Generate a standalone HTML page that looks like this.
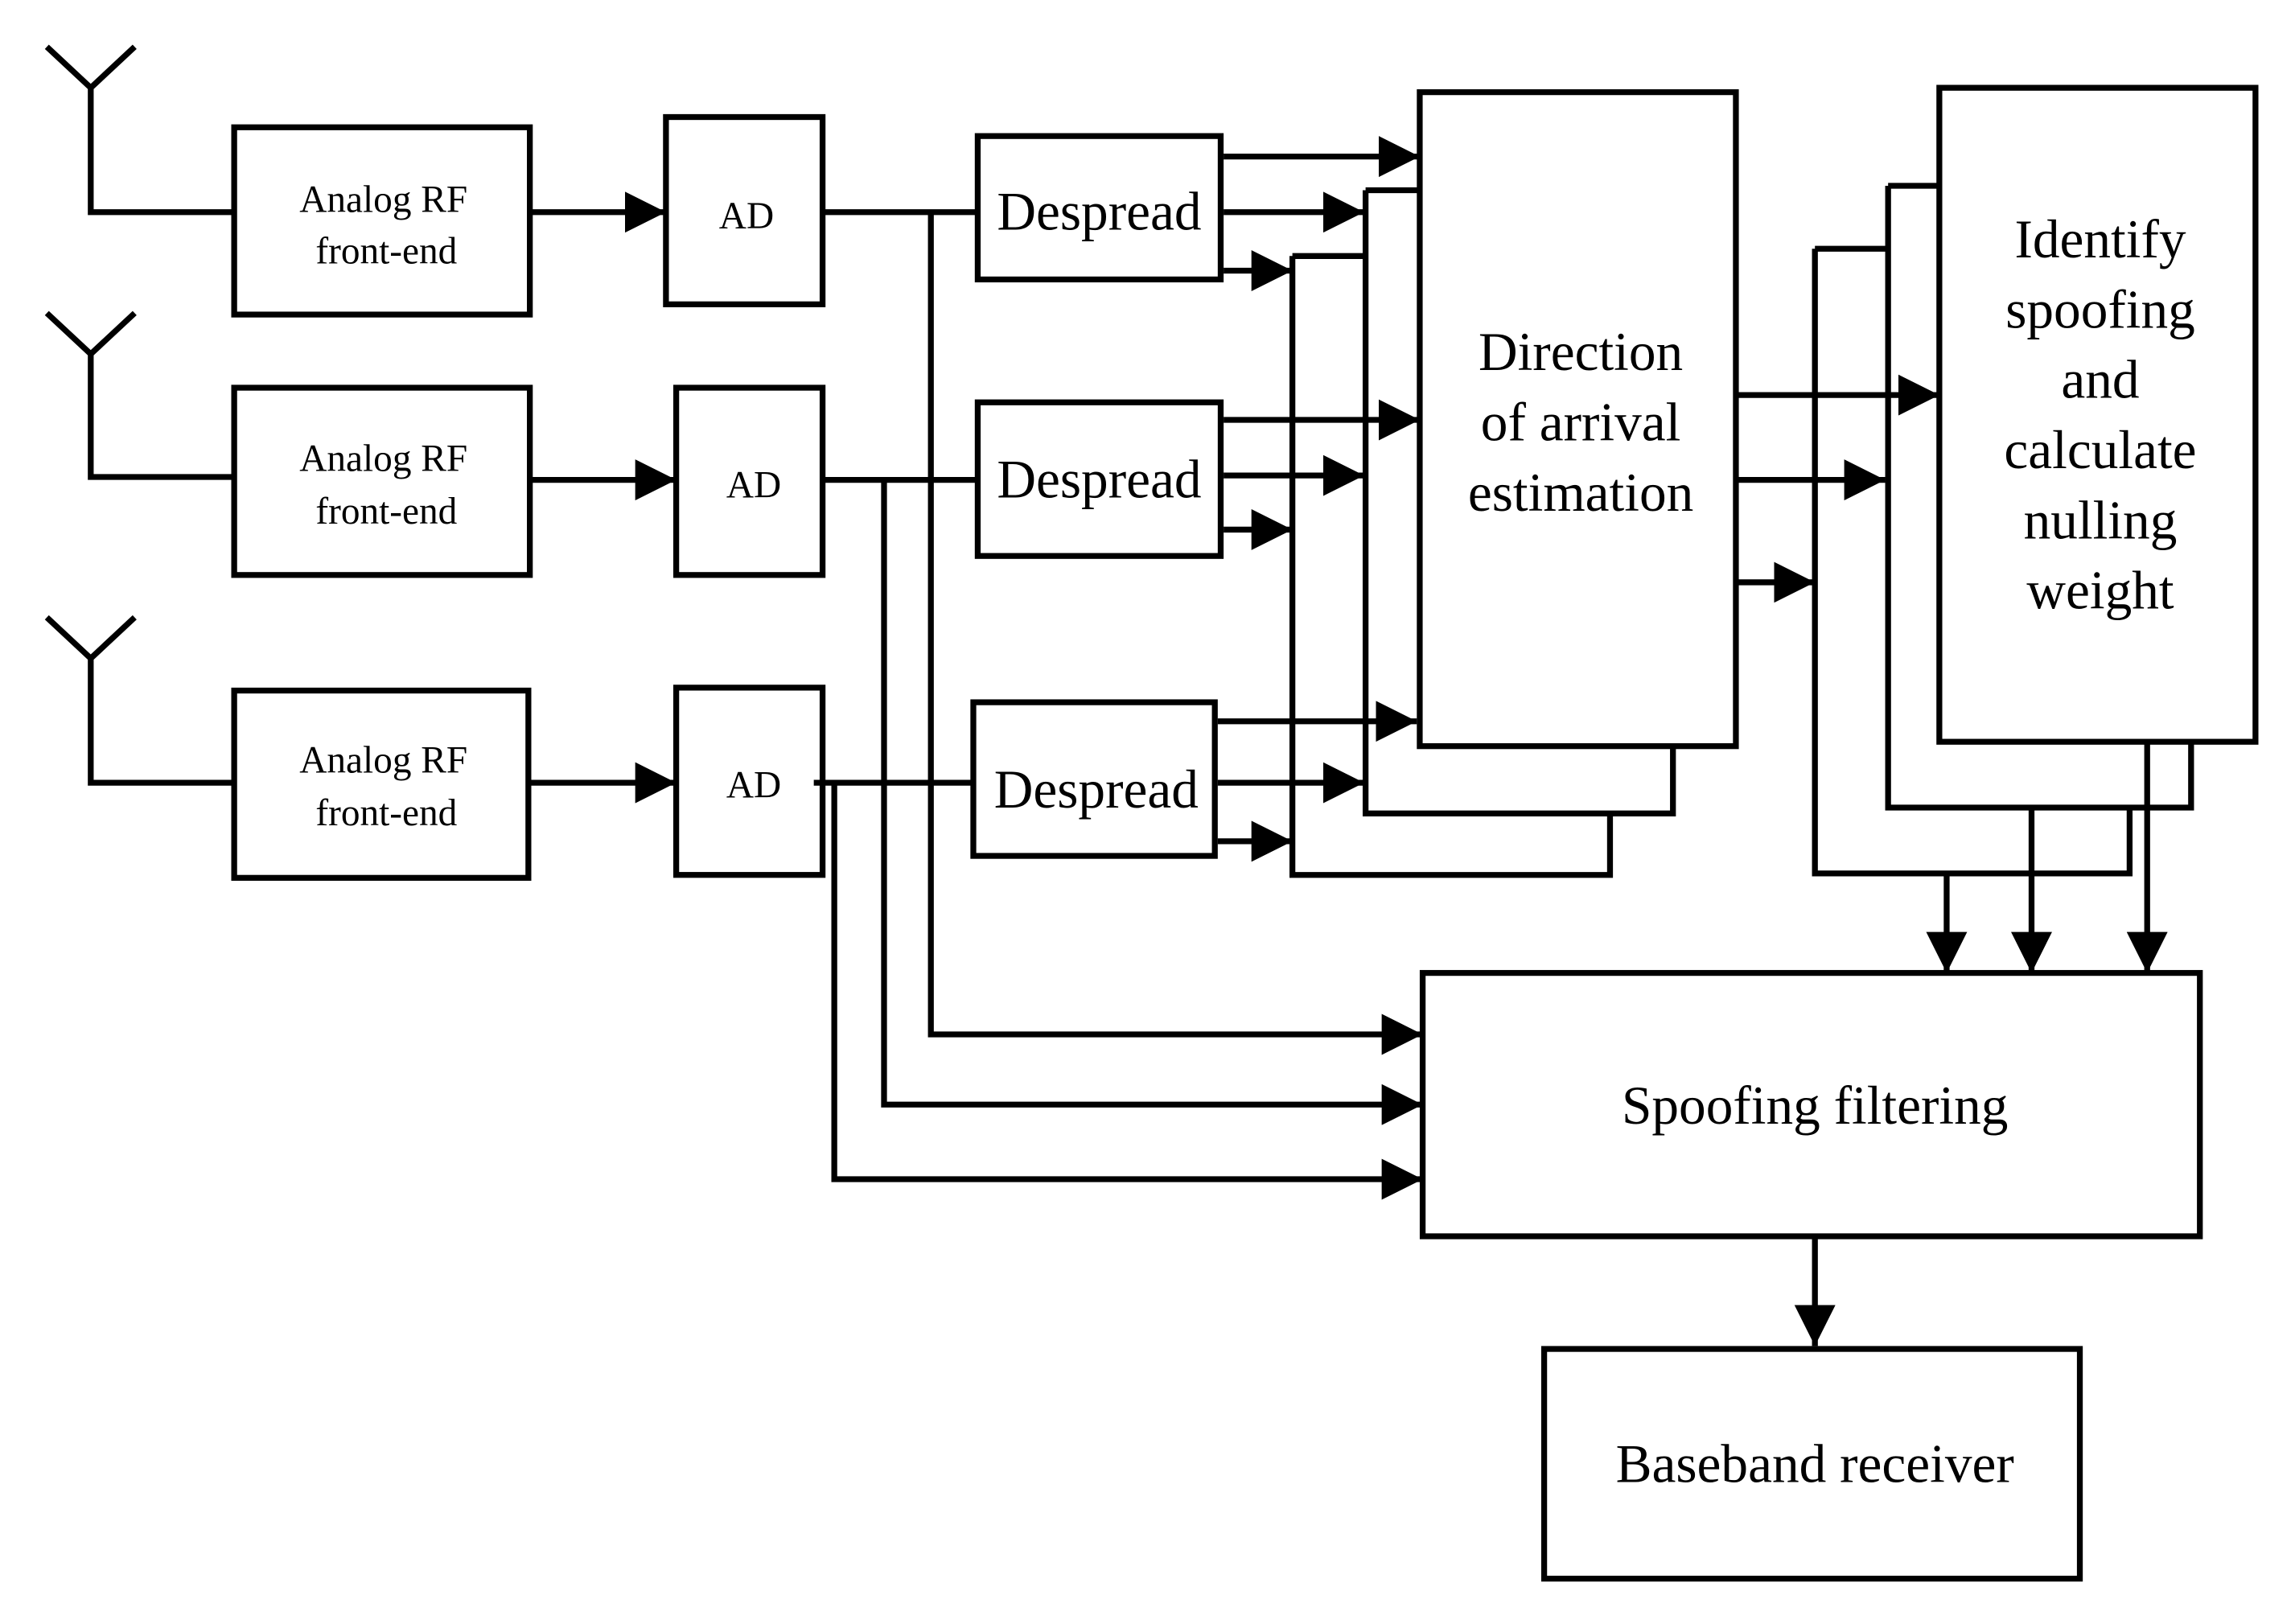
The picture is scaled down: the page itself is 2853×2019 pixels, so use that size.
<!DOCTYPE html>
<html><head><meta charset="utf-8"><style>html,body{margin:0;padding:0;background:#fff}svg{display:block}</style></head>
<body>
<svg width="2853" height="2019" viewBox="0 0 1568 1110" preserveAspectRatio="none" xmlns="http://www.w3.org/2000/svg" font-family="Liberation Serif, serif">
<defs>
<marker id="b" viewBox="0 0 30 30" refX="30" refY="15" markerWidth="28" markerHeight="28" orient="auto" markerUnits="userSpaceOnUse"><path d="M0,0 L30,15 L0,30 Z" fill="#000"/></marker></defs>
<g stroke="#000" stroke-width="4" fill="none">
<path d="M32,32 L62,60 L92,32 M62,60 V145 H160"/>
<path d="M32,214 L62,242 L92,214 M62,242 V326 H160"/>
<path d="M32,422 L62,450 L92,422 M62,450 V535 H160"/>
<rect x="160" y="87" width="202" height="128"/>
<rect x="160" y="265" width="202" height="128"/>
<rect x="160" y="472" width="201" height="128"/>
<rect x="455" y="80" width="107" height="128"/>
<rect x="462" y="265" width="100" height="128"/>
<rect x="462" y="470" width="100" height="128"/>
<rect x="668" y="93" width="166" height="98"/>
<rect x="668" y="275" width="166" height="105"/>
<rect x="665" y="480" width="165" height="105"/>
<path d="M883,175 H933 M883,175 V598 H1100 V556"/>
<path d="M933,130 H970 M933,130 V556 H1143 V510"/>
<rect x="970" y="63" width="216" height="447"/>
<path d="M1240,170 H1290 M1240,170 V597 H1455 V552"/>
<path d="M1290,127 H1325 M1290,127 V552 H1497 V507"/>
<rect x="1325" y="60" width="216" height="447"/>
<rect x="972" y="665" width="531" height="180"/>
<rect x="1055" y="922" width="366" height="157"/>
<g marker-end="url(#b)">
<path d="M362,145 H455"/><path d="M362,328 H462"/><path d="M361,535 H462"/>
<path d="M836,107 H970"/><path d="M836,145 H932"/><path d="M836,185 H883"/>
<path d="M836,287 H970"/><path d="M836,325 H932"/><path d="M836,362 H883"/>
<path d="M832,493 H968"/><path d="M832,535 H932"/><path d="M832,575 H883"/>
<path d="M1186,270 H1325"/><path d="M1186,328 H1288"/><path d="M1186,398 H1240"/>
<path d="M1330,597 V665"/><path d="M1388,552 V665"/><path d="M1467,507 V665"/>
<path d="M1240,845 V920"/>
<path d="M636,145 V707 H972"/><path d="M604,328 V755 H972"/><path d="M570,535 V806 H972"/>
</g>
<path d="M562,145 H668 M562,328 H668 M556,535 H665"/>
</g>
<g fill="#000" text-anchor="middle">
<g font-size="26"><text x="262" y="145">Analog RF</text><text x="264" y="180">front-end</text>
<text x="262" y="322">Analog RF</text><text x="264" y="358">front-end</text>
<text x="262" y="528">Analog RF</text><text x="264" y="564">front-end</text>
<text x="510" y="156">AD</text><text x="515" y="340">AD</text><text x="515" y="545">AD</text></g>
<g font-size="37"><text x="751" y="157">Despread</text><text x="751" y="340">Despread</text><text x="749" y="552">Despread</text>
<text x="1080" y="253">Direction</text><text x="1080" y="301">of arrival</text><text x="1080" y="349">estimation</text>
<text x="1435" y="176">Identify</text><text x="1435" y="224">spoofing</text><text x="1435" y="272">and</text><text x="1435" y="320">calculate</text><text x="1435" y="368">nulling</text><text x="1435" y="416">weight</text>
<text x="1240" y="768">Spoofing filtering</text><text x="1240" y="1013">Baseband receiver</text></g>
</g>
</svg>
</body></html>
